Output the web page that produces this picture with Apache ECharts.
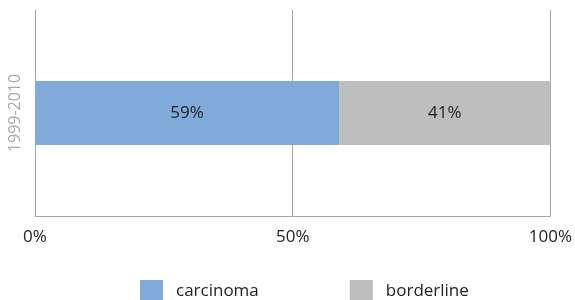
<!DOCTYPE html>
<html>
<head>
<meta charset="utf-8">
<script src="https://cdn.jsdelivr.net/npm/echarts@6/dist/echarts.min.js"></script>
<style>
  html, body { margin: 0; padding: 0; background: #fff; }
  #chart { width: 575px; height: 300px; }
</style>
</head>
<body>
<div id="chart"></div>
<script>
// datos del grafico
var categorias = ['1999-2010'];
var carcinoma = [59];
var borderline = [41];
var ticksX = [0, 50, 100];

var fuente = '"Open Sans", "Noto Sans", sans-serif';
var chart = echarts.init(document.getElementById('chart'));

chart.setOption({
    animation: false,
    textStyle: { fontFamily: fuente },
    grid: { left: 35, right: 24, top: 10, bottom: 84, containLabel: false },
    legend: {
        top: 280,
        left: 140,
        padding: 0,
        itemWidth: 23,
        itemHeight: 22,
        itemGap: 91,
        icon: 'rect',
        textStyle: { fontSize: 17, color: '#222', fontFamily: fuente, padding: [0, 0, 0, 8] },
        data: ['carcinoma', 'borderline']
    },
    xAxis: {
        type: 'value',
        min: ticksX[0],
        max: ticksX[ticksX.length - 1],
        interval: 50,
        axisLine: { show: true, lineStyle: { color: '#a6a6a6', width: 1 } },
        axisTick: { show: false },
        splitLine: { show: true, lineStyle: { color: '#a6a6a6', width: 1 } },
        axisLabel: {
            margin: 13,
            fontSize: 17,
            color: '#222',
            fontFamily: fuente,
            formatter: function (v) { return v + '%'; }
        }
    },
    yAxis: {
        type: 'category',
        data: categorias,
        axisLine: { show: true, lineStyle: { color: '#a6a6a6', width: 1 } },
        axisTick: { show: false },
        axisLabel: {
            rotate: 90,
            margin: 12,
            fontSize: 16,
            color: '#a8a8a8',
            fontFamily: fuente
        }
    },
    series: [
        {
            name: 'carcinoma',
            type: 'bar',
            stack: 'total',
            barWidth: 64,
            data: carcinoma,
            itemStyle: { color: '#7faad9' },
            label: {
                show: true,
                position: 'inside',
                fontSize: 17,
                color: '#222',
                fontFamily: fuente,
                formatter: '{c}%'
            }
        },
        {
            name: 'borderline',
            type: 'bar',
            stack: 'total',
            barWidth: 64,
            data: borderline,
            itemStyle: { color: '#bebebe' },
            label: {
                show: true,
                position: 'inside',
                fontSize: 17,
                color: '#222',
                fontFamily: fuente,
                formatter: '{c}%'
            }
        }
    ]
});
</script>
</body>
</html>
